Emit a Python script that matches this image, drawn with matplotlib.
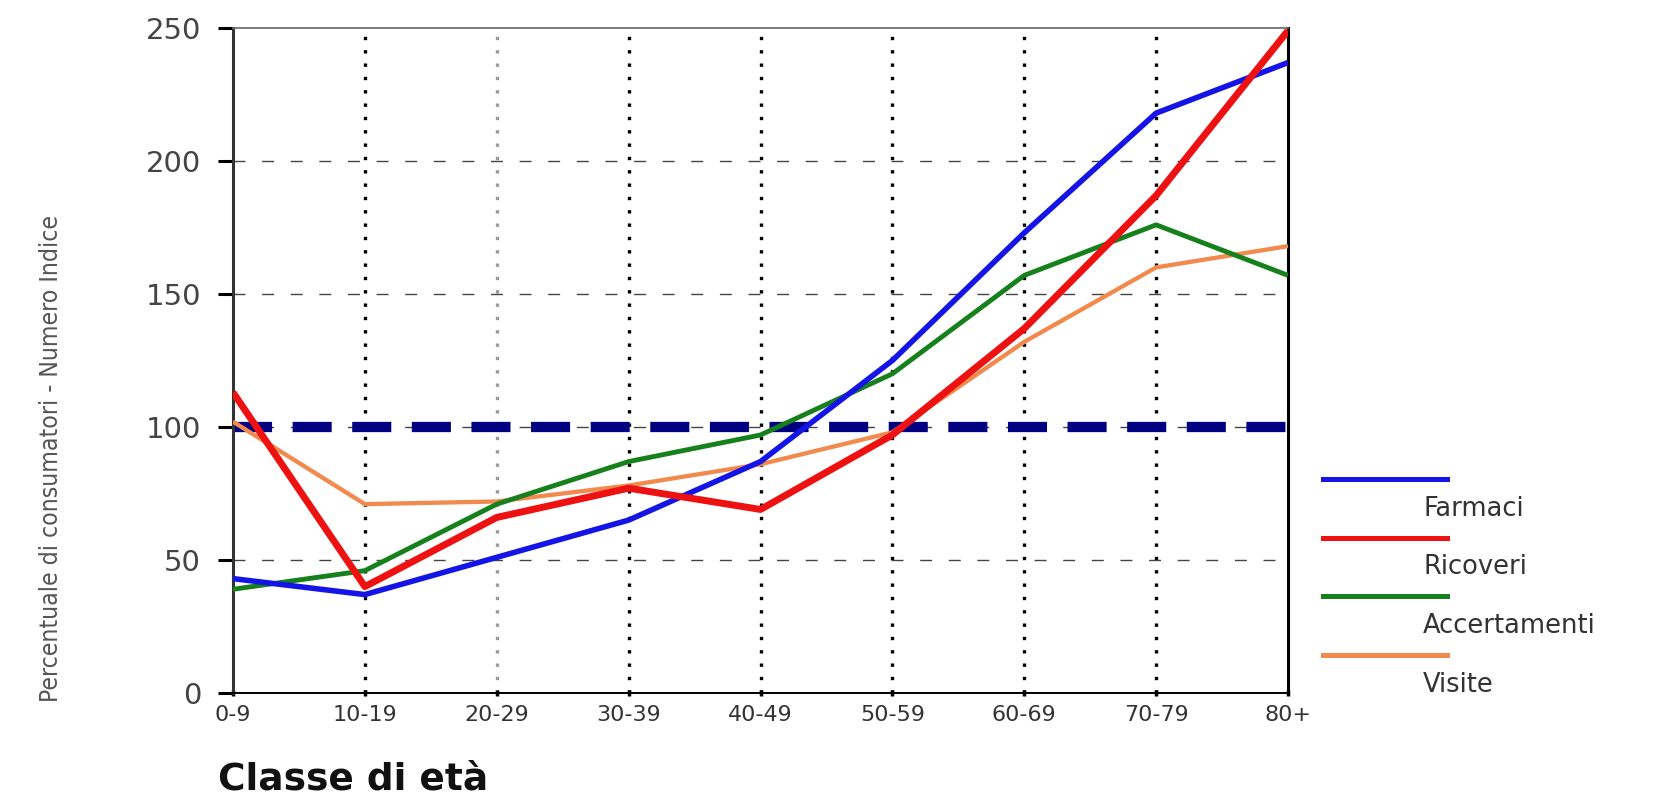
import numpy as np
import matplotlib
matplotlib.use("Agg")
from matplotlib import pyplot as plt
from matplotlib.lines import Line2D
from matplotlib import font_manager

# age classes and index values
categories = ['0-9', '10-19', '20-29', '30-39', '40-49', '50-59', '60-69', '70-79', '80+']
farmaci = [43, 37, 51, 65, 87, 125, 173, 218, 237]
ricoveri = [113, 40, 66, 77, 69, 97, 137, 187, 249]
accertamenti = [39, 46, 71, 87, 97, 120, 157, 176, 157]
visite = [102, 71, 72, 78, 86, 98, 132, 160, 168]
riferimento = 100
y_ticks = [0, 50, 100, 150, 200, 250]

W, H = 1657, 801
fig = plt.figure(figsize=(W / 100, H / 100), dpi=100)
ax = fig.add_axes([233 / W, 1 - 693 / H, (1288 - 233) / W, (693 - 28) / H])

x = np.arange(len(categories))

# grid
for i in range(1, len(categories) - 1):
    col = '#9a9a9a' if i == 2 else 'black'
    ax.axvline(x[i], color=col, lw=2.4, dashes=(1, 3.0), zorder=1)
for v in y_ticks[1:-1]:
    ax.axhline(v, color='#444444', lw=1.0, dashes=(8.6, 12), zorder=1)

# reference line at 100
ax.axhline(riferimento, color='#000080', lw=7.4, dashes=(3.8, 2.0), zorder=2)

series = [
    ('Farmaci', farmaci, '#1414e6', 4.0),
    ('Ricoveri', ricoveri, '#ee1111', 5.0),
    ('Accertamenti', accertamenti, '#16801c', 3.5),
    ('Visite', visite, '#f28a4e', 3.1),
]
zorders = {'Visite': 3, 'Accertamenti': 4, 'Farmaci': 5, 'Ricoveri': 6}
for name, vals, col, lw in series:
    ax.plot(x, vals, color=col, lw=lw, zorder=zorders[name], solid_capstyle='butt')

ax.set_xlim(0, len(categories) - 1)
ax.set_ylim(0, 250)
ax.set_xticks(x)
ax.set_xticklabels(categories, fontsize=16, color='#333333')
ax.set_yticks(y_ticks)
ax.set_yticklabels([str(v) for v in y_ticks], fontsize=21, color='#444444')
ax.tick_params(axis='y', direction='out', length=11, width=2.2, pad=12, color='black')
ax.tick_params(axis='x', direction='inout', length=5, width=2.5, pad=6, color='black')

ax.spines['left'].set_color('#333333')
ax.spines['left'].set_linewidth(2.2)
ax.spines['right'].set_color('black')
ax.spines['right'].set_linewidth(2.2)
ax.spines['bottom'].set_color('black')
ax.spines['bottom'].set_linewidth(1.4)
ax.spines['top'].set_color('#666666')
ax.spines['top'].set_linewidth(1.2)

# x axis title
fig.text(218 / W, 1 - 789 / H, 'Classe di età', fontsize=27, fontweight='bold',
         ha='left', va='baseline', color='#111111')

# y axis title, in a narrow face when one is available
names = {f.name for f in font_manager.fontManager.ttflist}
ykw = dict(rotation=90, ha='center', va='center', color='#555555')
if 'Liberation Sans Narrow' in names:
    ykw['family'] = 'Liberation Sans Narrow'
else:
    ykw['family'] = 'DejaVu Sans'
    ykw['fontstretch'] = 'condensed'
ylab = fig.text(51 / W, 1 - 459 / H, 'Percentuale di consumatori - Numero Indice',
                fontsize=16, **ykw)
fig.canvas.draw()
ext = ylab.get_window_extent()
ylab.set_fontsize(16 * 490 / ext.height)

# legend: handle with the name below it
for i, (name, vals, col, lw) in enumerate(series):
    yh = 479 + 58.5 * i
    fig.add_artist(Line2D([1323 / W, 1447 / W], [1 - yh / H, 1 - yh / H],
                          color=col, lw=3.6, transform=fig.transFigure))
    fig.text(1423 / W, 1 - (yh + 30) / H, name, fontsize=18.5, color='#333333',
             ha='left', va='center')

fig.savefig('out.png', dpi=100)
